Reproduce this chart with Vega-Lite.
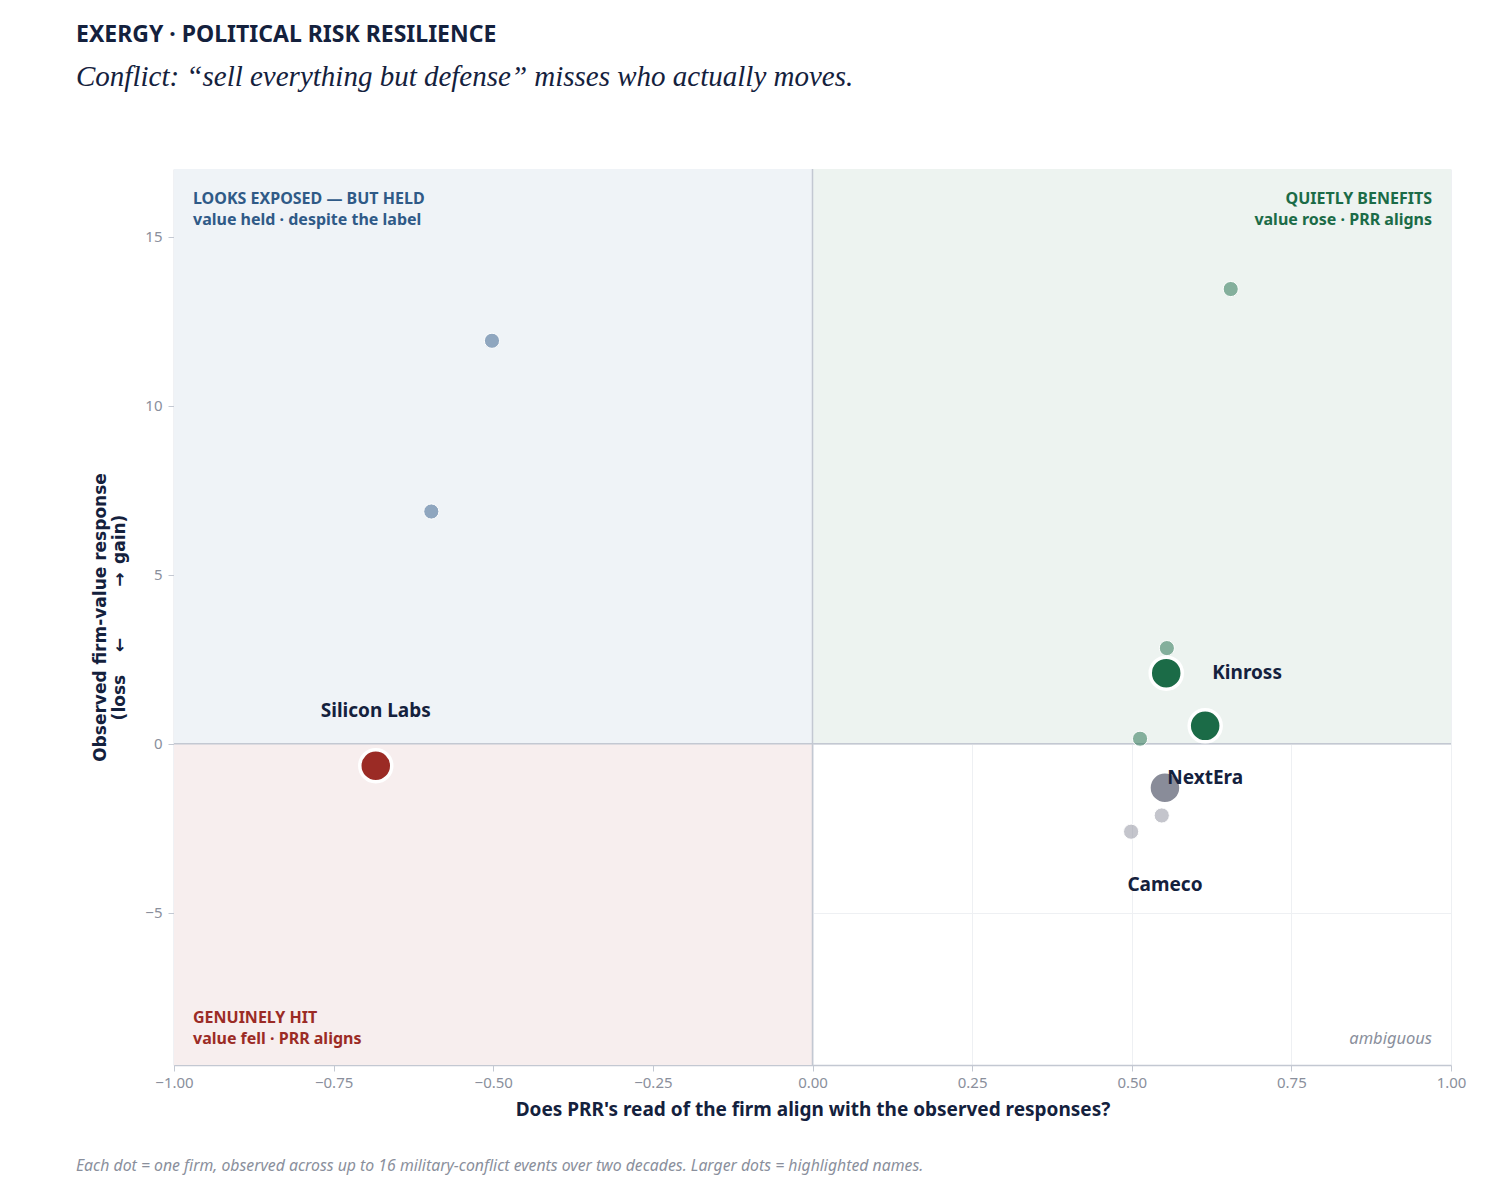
{
  "$schema": "https://vega.github.io/schema/vega-lite/v6.json",
  "autosize": {"type": "none"},
  "padding": {"left": 174, "top": 169, "right": 61, "bottom": 139},
  "width": 1277,
  "height": 896,
  "background": "#ffffff",
  "title": {
    "text": "EXERGY · POLITICAL RISK RESILIENCE",
    "subtitle": "Conflict: “sell everything but defense” misses who actually moves.",
    "anchor": "start",
    "frame": "group",
    "dx": -98,
    "offset": 76,
    "font": "Noto Sans",
    "fontSize": 23,
    "fontWeight": "bold",
    "color": "#14213d",
    "subtitleFont": "Liberation Serif",
    "subtitleFontSize": 29,
    "subtitleFontStyle": "italic",
    "subtitleColor": "#14213d",
    "subtitlePadding": 16
  },
  "config": {
    "view": {"stroke": null},
    "axis": {
      "labelFont": "Noto Sans",
      "labelFontSize": 15,
      "labelColor": "#8a8f9c",
      "labelFlush": false,
      "titleFont": "Noto Sans",
      "titleFontSize": 19,
      "titleFontWeight": "bold",
      "titleColor": "#14213d",
      "gridColor": "#eef0f3",
      "gridWidth": 1,
      "domainColor": "#c3c8d2",
      "domainWidth": 1.5,
      "tickColor": "#c3c8d2",
      "tickSize": 6
    }
  },
  "datasets": {
    "quadrants": [
      {"x": -1, "x2": 0, "y": 0, "y2": 17, "q": "held"},
      {"x": 0, "x2": 1, "y": 0, "y2": 17, "q": "benefits"},
      {"x": -1, "x2": 0, "y": -9.5, "y2": 0, "q": "hit"}
    ],
    "firms": [
      {"align": -0.502, "resp": 11.92, "group": "held", "kind": "other", "name": ""},
      {"align": -0.597, "resp": 6.87, "group": "held", "kind": "other", "name": ""},
      {"align": 0.655, "resp": 13.45, "group": "benefits", "kind": "other", "name": ""},
      {"align": 0.555, "resp": 2.83, "group": "benefits", "kind": "other", "name": ""},
      {"align": 0.513, "resp": 0.15, "group": "benefits", "kind": "other", "name": ""},
      {"align": 0.547, "resp": -2.12, "group": "ambiguous", "kind": "other", "name": ""},
      {"align": 0.499, "resp": -2.6, "group": "ambiguous", "kind": "other", "name": ""},
      {"align": -0.684, "resp": -0.65, "group": "hit", "kind": "highlight", "name": "Silicon Labs"},
      {"align": 0.554, "resp": 2.09, "group": "benefits", "kind": "highlight", "name": "Kinross"},
      {"align": 0.615, "resp": 0.53, "group": "benefits", "kind": "highlight", "name": "NextEra"},
      {"align": 0.552, "resp": -1.3, "group": "ambiguous", "kind": "highlight", "name": "Cameco"}
    ],
    "corners": [
      {"x": -1, "y": 17, "line1": "LOOKS EXPOSED — BUT HELD", "line2": "value held · despite the label", "q": "held"},
      {"x": 1, "y": 17, "line1": "QUIETLY BENEFITS", "line2": "value rose · PRR aligns", "q": "benefits"},
      {"x": -1, "y": -9.5, "line1": "GENUINELY HIT", "line2": "value fell · PRR aligns", "q": "hit"}
    ]
  },
  "layer": [
    {
      "data": {"name": "quadrants"},
      "mark": {"type": "rect"},
      "encoding": {
        "x": {"field": "x", "type": "quantitative", "scale": {"domain": [-1, 1], "nice": false},
              "axis": {"title": "Does PRR's read of the firm align with the observed responses?", "values": [-1, -0.75, -0.5, -0.25, 0, 0.25, 0.5, 0.75, 1], "format": ".2f", "titlePadding": 10, "labelPadding": 4}},
        "x2": {"field": "x2"},
        "y": {"field": "y", "type": "quantitative", "scale": {"domain": [-9.5, 17], "nice": false, "zero": false},
              "axis": {"title": ["Observed firm-value response", "(loss \u2003←\u2003\u2003\u2003→\u2002gain)"], "values": [-5, 0, 5, 10, 15], "titlePadding": 16, "labelPadding": 6, "titleFont": "DejaVu Sans", "titleFontSize": 17}},
        "y2": {"field": "y2"},
        "color": {"field": "q", "type": "nominal", "legend": null,
                  "scale": {"domain": ["held", "benefits", "hit"], "range": ["#eff3f7", "#edf3f0", "#f7eeee"]}}
      }
    },
    {
      "data": {"values": [{"v": 0}]},
      "mark": {"type": "rule", "color": "#c3c8d2", "strokeWidth": 1.5},
      "encoding": {"x": {"field": "v", "type": "quantitative"}}
    },
    {
      "data": {"values": [{"v": 0}]},
      "mark": {"type": "rule", "color": "#c3c8d2", "strokeWidth": 1.5},
      "encoding": {"y": {"field": "v", "type": "quantitative"}}
    },
    {
      "data": {"name": "firms"},
      "mark": {"type": "circle", "filled": true, "stroke": "#ffffff", "opacity": 1},
      "encoding": {
        "x": {"field": "align", "type": "quantitative"},
        "y": {"field": "resp", "type": "quantitative"},
        "fill": {"field": "group", "type": "nominal", "legend": null,
                  "scale": {"domain": ["held", "benefits", "hit", "ambiguous"], "range": ["#2f5a87", "#1b6b47", "#9b2b25", "#898c99"]}},
        "size": {"condition": {"test": "datum.kind === 'highlight'", "value": 1024}, "value": 230},
        "fillOpacity": {"condition": {"test": "datum.kind === 'highlight'", "value": 1}, "value": 0.5},
        "strokeWidth": {"condition": {"test": "datum.kind === 'highlight'", "value": 3.5}, "value": 1},
        "order": {"field": "kind", "type": "nominal", "sort": "descending"}
      }
    },
    {
      "data": {"name": "firms"},
      "transform": [{"filter": "datum.name === 'Silicon Labs'"}],
      "mark": {"type": "text", "font": "Noto Sans", "fontSize": 19, "fontWeight": "bold", "color": "#14213d", "align": "center", "baseline": "middle", "dy": -55},
      "encoding": {"x": {"field": "align", "type": "quantitative"}, "y": {"field": "resp", "type": "quantitative"}, "text": {"field": "name"}}
    },
    {
      "data": {"name": "firms"},
      "transform": [{"filter": "datum.name === 'Kinross'"}],
      "mark": {"type": "text", "font": "Noto Sans", "fontSize": 19, "fontWeight": "bold", "color": "#14213d", "align": "left", "baseline": "middle", "dx": 46},
      "encoding": {"x": {"field": "align", "type": "quantitative"}, "y": {"field": "resp", "type": "quantitative"}, "text": {"field": "name"}}
    },
    {
      "data": {"name": "firms"},
      "transform": [{"filter": "datum.name === 'NextEra'"}],
      "mark": {"type": "text", "font": "Noto Sans", "fontSize": 19, "fontWeight": "bold", "color": "#14213d", "align": "center", "baseline": "middle", "dy": 52},
      "encoding": {"x": {"field": "align", "type": "quantitative"}, "y": {"field": "resp", "type": "quantitative"}, "text": {"field": "name"}}
    },
    {
      "data": {"name": "firms"},
      "transform": [{"filter": "datum.name === 'Cameco'"}],
      "mark": {"type": "text", "font": "Noto Sans", "fontSize": 19, "fontWeight": "bold", "color": "#14213d", "align": "center", "baseline": "middle", "dy": 97},
      "encoding": {"x": {"field": "align", "type": "quantitative"}, "y": {"field": "resp", "type": "quantitative"}, "text": {"field": "name"}}
    },
    {
      "data": {"name": "corners"},
      "transform": [{"filter": "datum.q === 'held'"}],
      "mark": {"type": "text", "font": "Noto Sans", "fontSize": 16, "fontWeight": "bold", "color": "#2f5a87", "align": "left", "baseline": "middle", "dx": 19, "dy": 30},
      "encoding": {"x": {"field": "x", "type": "quantitative"}, "y": {"field": "y", "type": "quantitative"}, "text": {"field": "line1"}}
    },
    {
      "data": {"name": "corners"},
      "transform": [{"filter": "datum.q === 'held'"}],
      "mark": {"type": "text", "font": "Noto Sans", "fontSize": 16, "fontWeight": "bold", "color": "#2f5a87", "align": "left", "baseline": "middle", "dx": 19, "dy": 51},
      "encoding": {"x": {"field": "x", "type": "quantitative"}, "y": {"field": "y", "type": "quantitative"}, "text": {"field": "line2"}}
    },
    {
      "data": {"name": "corners"},
      "transform": [{"filter": "datum.q === 'benefits'"}],
      "mark": {"type": "text", "font": "Noto Sans", "fontSize": 16, "fontWeight": "bold", "color": "#1b6b47", "align": "right", "baseline": "middle", "dx": -19, "dy": 30},
      "encoding": {"x": {"field": "x", "type": "quantitative"}, "y": {"field": "y", "type": "quantitative"}, "text": {"field": "line1"}}
    },
    {
      "data": {"name": "corners"},
      "transform": [{"filter": "datum.q === 'benefits'"}],
      "mark": {"type": "text", "font": "Noto Sans", "fontSize": 16, "fontWeight": "bold", "color": "#1b6b47", "align": "right", "baseline": "middle", "dx": -19, "dy": 51},
      "encoding": {"x": {"field": "x", "type": "quantitative"}, "y": {"field": "y", "type": "quantitative"}, "text": {"field": "line2"}}
    },
    {
      "data": {"name": "corners"},
      "transform": [{"filter": "datum.q === 'hit'"}],
      "mark": {"type": "text", "font": "Noto Sans", "fontSize": 16, "fontWeight": "bold", "color": "#9b2b25", "align": "left", "baseline": "middle", "dx": 19, "dy": -47},
      "encoding": {"x": {"field": "x", "type": "quantitative"}, "y": {"field": "y", "type": "quantitative"}, "text": {"field": "line1"}}
    },
    {
      "data": {"name": "corners"},
      "transform": [{"filter": "datum.q === 'hit'"}],
      "mark": {"type": "text", "font": "Noto Sans", "fontSize": 16, "fontWeight": "bold", "color": "#9b2b25", "align": "left", "baseline": "middle", "dx": 19, "dy": -26},
      "encoding": {"x": {"field": "x", "type": "quantitative"}, "y": {"field": "y", "type": "quantitative"}, "text": {"field": "line2"}}
    },
    {
      "data": {"values": [{"x": 1, "y": -9.5, "t": "ambiguous"}]},
      "mark": {"type": "text", "font": "Noto Sans", "fontSize": 16.5, "fontStyle": "italic", "color": "#8a8f9c", "align": "right", "baseline": "middle", "dx": -19, "dy": -26},
      "encoding": {"x": {"field": "x", "type": "quantitative"}, "y": {"field": "y", "type": "quantitative"}, "text": {"field": "t"}}
    },
    {
      "data": {"values": [{"x": -1, "y": -9.5, "t": "Each dot = one firm, observed across up to 16 military-conflict events over two decades. Larger dots = highlighted names."}]},
      "mark": {"type": "text", "font": "Noto Sans", "fontSize": 15.8, "fontStyle": "italic", "color": "#8a8f9c", "align": "left", "baseline": "middle", "dx": -98, "dy": 101},
      "encoding": {"x": {"field": "x", "type": "quantitative"}, "y": {"field": "y", "type": "quantitative"}, "text": {"field": "t"}}
    }
  ]
}
